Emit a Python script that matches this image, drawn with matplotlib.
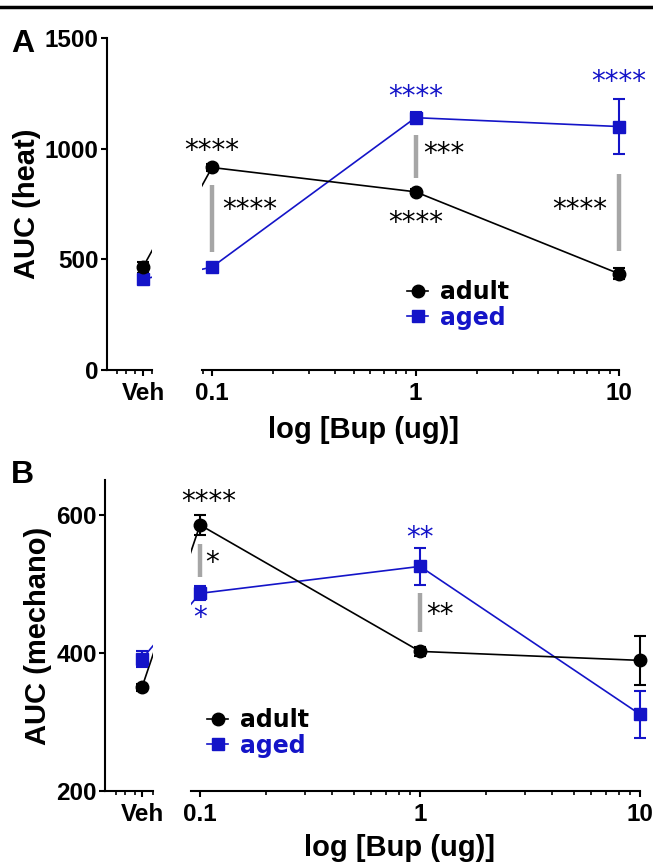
import matplotlib
matplotlib.use('Agg')
import matplotlib.pyplot as plt
from matplotlib.lines import Line2D
from matplotlib.ticker import LogLocator, FixedLocator, NullFormatter

plt.rcParams['font.family'] = ['Liberation Sans', 'DejaVu Sans']
plt.rcParams['font.weight'] = 'bold'

BLUE = '#1414c8'
GREY = '#a6a6a6'

doses = [0.1, 1, 10]

# panel A: heat
A_adult_veh, A_adult_veh_err = 465, 25
A_aged_veh, A_aged_veh_err = 410, 15
A_adult = [915, 805, 435]
A_adult_err = [15, 12, 25]
A_aged = [465, 1140, 1100]
A_aged_err = [10, 25, 125]

# panel B: mechano
B_adult_veh, B_adult_veh_err = 350, 5
B_aged_veh, B_aged_veh_err = 391, 12
B_adult = [585, 402, 389]
B_adult_err = [14, 6, 36]
B_aged = [486, 525, 311]
B_aged_err = [10, 27, 34]

W, H = 653, 863
fig = plt.figure(figsize=(W / 100, H / 100), dpi=100)


def rect(x0, y0, x1, y1):
    return [x0 / W, 1 - y1 / H, (x1 - x0) / W, (y1 - y0) / H]


def style_axes(axv, axm, ylim, yticks, xlim, veh_x):
    for ax in (axv, axm):
        ax.set_ylim(*ylim)
        ax.spines['top'].set_visible(False)
        ax.spines['right'].set_visible(False)
        for s in ax.spines.values():
            s.set_linewidth(1.5)
        ax.tick_params(width=1.5, length=4.5, labelsize=17.5, pad=1.5)
        ax.tick_params(which='minor', width=1.2, length=3)
    axv.set_xlim(0, 1)
    axv.set_yticks(yticks)
    axv.set_xticks([veh_x])
    axv.set_xticklabels(['Veh'])
    axv.xaxis.set_minor_locator(FixedLocator([0.22, 0.42, 0.62, 1.0]))
    axm.spines['left'].set_visible(False)
    axm.set_yticks([])
    axm.set_xscale('log')
    axm.set_xlim(*xlim)
    axm.xaxis.set_major_locator(FixedLocator(doses))
    axm.set_xticklabels(['0.1', '1', '10'])
    axm.xaxis.set_minor_locator(LogLocator(base=10, subs=range(2, 10)))
    axm.xaxis.set_minor_formatter(NullFormatter())
    for ax in (axv, axm):
        ax.tick_params(axis='x', pad=4)


def draw_series(axv, axm, veh_x, veh, veh_err, vals, errs, color, marker, ms, dv, dlog):
    kw = dict(color=color, marker=marker, ms=ms, capsize=4, elinewidth=1.5,
              capthick=1.5, lw=1.2, clip_on=False, zorder=3)
    axv.errorbar([veh_x], [veh], yerr=[veh_err], **kw)
    axm.errorbar(doses, vals, yerr=errs, **kw)
    # broken-axis stubs of the Veh -> 0.1 segment
    axv.plot([veh_x, veh_x + dv], [veh, vals[0]], color=color, lw=1.2, zorder=2)
    axm.plot([doses[0] * 10 ** (-dlog), doses[0]], [veh, vals[0]], color=color, lw=1.2, zorder=2)


def legend(ax, x, y):
    handles = [Line2D([], [], color='black', marker='o', ms=9, lw=1.2),
               Line2D([], [], color=BLUE, marker='s', ms=8, lw=1.2)]
    ax.legend(handles, ['adult', 'aged'], loc='center left',
              bbox_to_anchor=(x / W, 1 - y / H), bbox_transform=fig.transFigure,
              frameon=False, handlelength=0.9, handletextpad=0.5, labelspacing=0.05,
              borderpad=0, borderaxespad=0, labelcolor=['black', BLUE],
              prop=dict(family='DejaVu Sans', weight='bold', size=17))


def stars(ax, x, y, s, color='black', ha='center'):
    ax.text(x, y, s, color=color, ha=ha, va='center', fontsize=20,
            family='DejaVu Sans', fontweight='normal', clip_on=False)


def sig_bar(ax, x, y0, y1):
    ax.plot([x, x], [y0, y1], color=GREY, lw=3.2, solid_capstyle='butt',
            zorder=1, clip_on=False)


# ---------------- panel A ----------------
axAv = fig.add_axes(rect(107, 38, 152, 370))
axAm = fig.add_axes(rect(202, 38, 619, 370))
style_axes(axAv, axAm, (0, 1500), [0, 500, 1000, 1500], (0.0893, 10), 0.8)
draw_series(axAv, axAm, 0.8, A_aged_veh, A_aged_veh_err, A_aged, A_aged_err,
            BLUE, 's', 8, 55 / 45, 55 / 203.5)
draw_series(axAv, axAm, 0.8, A_adult_veh, A_adult_veh_err, A_adult, A_adult_err,
            'black', 'o', 9, 55 / 45, 55 / 203.5)

stars(axAm, 0.1, 990, '****')
sig_bar(axAm, 0.1, 533, 836)
stars(axAm, 0.112, 723, '****', ha='left')
stars(axAm, 1, 1235, '****', color=BLUE)
sig_bar(axAm, 1, 868, 1062)
stars(axAm, 1.09, 975, '***', ha='left')
stars(axAm, 1, 665, '****')
stars(axAm, 10, 1300, '****', color=BLUE)
sig_bar(axAm, 10, 538, 886)
stars(axAm, 8.8, 723, '****', ha='right')
legend(axAm, 407, 305)

axAv.set_ylabel('AUC (heat)', fontsize=21, fontweight='bold')
axAv.yaxis.set_label_coords(41 / W, 1 - 204 / H, transform=fig.transFigure)
fig.text(363 / W, 1 - 430 / H, 'log [Bup (ug)]', fontsize=21, ha='center', va='center')
fig.text(23 / W, 1 - 44 / H, 'A', fontsize=23, ha='center', va='center')

# ---------------- panel B ----------------
axBv = fig.add_axes(rect(105, 480, 153, 791))
axBm = fig.add_axes(rect(191, 480, 640, 791))
style_axes(axBv, axBm, (200, 650), [200, 400, 600], (0.091, 10), 0.77)
draw_series(axBv, axBm, 0.77, B_aged_veh, B_aged_veh_err, B_aged, B_aged_err,
            BLUE, 's', 8, 55 / 48, 55 / 220)
draw_series(axBv, axBm, 0.77, B_adult_veh, B_adult_veh_err, B_adult, B_adult_err,
            'black', 'o', 9, 55 / 48, 55 / 220)

stars(axBm, 0.109, 618, '****')
sig_bar(axBm, 0.1, 509, 558)
stars(axBm, 0.106, 530, '*', ha='left')
stars(axBm, 0.1, 451, '*', color=BLUE)
stars(axBm, 1, 566, '**', color=BLUE)
sig_bar(axBm, 1, 430, 487)
stars(axBm, 1.07, 454, '**', ha='left')
legend(axBm, 207, 733)

axBv.set_ylabel('AUC (mechano)', fontsize=21, fontweight='bold')
axBv.yaxis.set_label_coords(52 / W, 1 - 636 / H, transform=fig.transFigure)
fig.text(400 / W, 1 - 848 / H, 'log [Bup (ug)]', fontsize=21, ha='center', va='center')
fig.text(22 / W, 1 - 475 / H, 'B', fontsize=23, ha='center', va='center')

# rule at the top of the page
fig.add_artist(Line2D([0, 1], [1 - 7 / H, 1 - 7 / H], color='black', lw=2.5,
                      transform=fig.transFigure))

fig.savefig('out.png', dpi=100)
